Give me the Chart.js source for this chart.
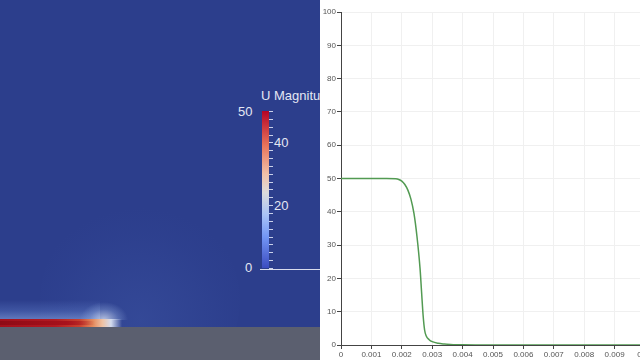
<!DOCTYPE html>
<html>
<head>
<meta charset="utf-8">
<script src="https://cdn.jsdelivr.net/npm/chart.js@4/dist/chart.umd.min.js"></script>
<style>
  html, body { margin: 0; padding: 0; }
  body { width: 640px; height: 360px; overflow: hidden; position: relative; background: #fff; font-family: "Liberation Sans", sans-serif; }
  #render { position: absolute; left: 0; top: 0; width: 320px; height: 360px; overflow: hidden; background: #2c3e8c; }
  #dome { position: absolute; left: 40px; top: 200px; width: 200px; height: 200px; border-radius: 50%;
          background: radial-gradient(circle at 50% 60%, rgba(80,110,190,0.22), rgba(60,85,170,0.08) 55%, rgba(44,62,140,0) 72%); }
  #floor { position: absolute; left: 0; top: 327px; width: 320px; height: 33px; background: #5b5f6f; }
  #glow { position: absolute; left: 0; top: 300px; width: 135px; height: 20px;
          background:
            radial-gradient(ellipse 24px 18px at 104px 100%, rgba(205,215,238,0.85), rgba(150,175,225,0.35) 60%, rgba(44,62,140,0)),
            linear-gradient(to bottom, rgba(44,62,140,0), rgba(100,130,205,0.35) 55%, rgba(130,158,220,0.65));
          background-size: 135px 100%, 100px 100%;
          background-repeat: no-repeat; }
  #jet { position: absolute; left: 0; top: 319px; width: 122px; height: 8px;
         background: linear-gradient(to right, #a3101c, #b21a22 45%, #c8402e 65%, #e58a5c 76%, #efc2a4 84%, #d4dcef 91%, rgba(120,150,215,0)); }
  #jetcore { position: absolute; left: 0; top: 321px; width: 95px; height: 4px; background: linear-gradient(to right, #8e0a15, #a8121c 70%, rgba(180,40,40,0)); }
  #cbar { position: absolute; left: 262px; top: 111px; width: 7px; height: 157px;
          background: linear-gradient(to bottom, #b40426, #e7745b 22%, #f1c0a8 40%, #dcdcdc 52%, #a9c3f6 66%, #7396f5 80%, #3b4cc0); }
  #cticks { position: absolute; left: 269px; top: 111px; width: 4px; height: 158px;
            background: repeating-linear-gradient(to bottom, #c9d0ea 0, #c9d0ea 1px, transparent 1px, transparent 7.85px); }
  #cline { position: absolute; left: 260px; top: 269px; width: 60px; height: 1px; background: #d8dcec; }
  .lab { position: absolute; color: #e4e7f3; font-size: 13px; line-height: 13px; white-space: nowrap; }
  #chartbox { position: absolute; left: 320px; top: 0; width: 360px; height: 360px; }
</style>
</head>
<body>
<div id="render">
  <div id="dome"></div>
  <div id="glow"></div>
  <div id="jet"></div>
  <div id="jetcore"></div>
  <div id="floor"></div>
  <div id="cbar"></div>
  <div id="cticks"></div>
  <div id="cline"></div>
  <div class="lab" style="left:261px;top:89px;">U Magnitude</div>
  <div class="lab" style="left:238px;top:105px;">50</div>
  <div class="lab" style="left:274px;top:136px;">40</div>
  <div class="lab" style="left:274px;top:199px;">20</div>
  <div class="lab" style="left:245px;top:261px;">0</div>
</div>
<div id="chartbox"><canvas id="plot"></canvas></div>
<script>
// arc length along the line (m) and U magnitude
var arcLength = [0, 0.0005, 0.001, 0.0015, 0.0018, 0.0019, 0.002, 0.0021, 0.0022, 0.0023,
                 0.0024, 0.0025, 0.0026, 0.00265, 0.0027, 0.00275, 0.0028, 0.0029, 0.003, 0.0032,
                 0.0034, 0.0036, 0.0038, 0.004, 0.005, 0.006, 0.007, 0.008, 0.009, 0.01];
var uMagnitude = [50, 50, 50, 50, 49.9, 49.7, 49.2, 48.2, 46.5, 43.8,
                  39.5, 32.5, 23, 16, 9, 4.5, 2.8, 1.6, 1.0, 0.5,
                  0.3, 0.18, 0.1, 0.05, 0, 0, 0, 0, 0, 0];
var xTickLabels = ["0", "0.001", "0.002", "0.003", "0.004", "0.005", "0.006", "0.007", "0.008", "0.009", "0.01"];
var yTickLabels = ["0", "10", "20", "30", "40", "50", "60", "70", "80", "90", "100"];

var points = arcLength.map(function (x, i) { return { x: x, y: uMagnitude[i] }; });

var ctx = document.getElementById("plot").getContext("2d");
var chart = new Chart(ctx, {
    type: "line",
    data: {
        datasets: [{
            data: points,
            borderColor: "#529a52",
            borderWidth: 1.5,
            pointRadius: 0,
            cubicInterpolationMode: "monotone",
            fill: false
        }]
    },
    options: {
        responsive: true,
        maintainAspectRatio: false,
        animation: false,
        layout: { padding: { top: 12, right: 35, bottom: 0, left: 0 } },
        plugins: { legend: { display: false }, tooltip: { enabled: false } },
        scales: {
            x: {
                type: "linear",
                min: 0, max: 0.01,
                ticks: {
                    stepSize: 0.001,
                    maxRotation: 0,
                    autoSkip: false,
                    padding: 1,
                    color: "#555",
                    font: { size: 8, family: "Liberation Sans" },
                    callback: function (v, i) { return xTickLabels[i]; }
                },
                grid: { color: "#f0f0f0", tickColor: "#444", tickLength: 4 },
                border: { color: "#444", width: 1 },
                afterFit: function (s) { s.height = 15; }
            },
            y: {
                min: 0, max: 100,
                ticks: {
                    stepSize: 10,
                    padding: 1,
                    color: "#555",
                    font: { size: 8, family: "Liberation Sans" },
                    callback: function (v, i) { return yTickLabels[i]; }
                },
                grid: { color: "#f0f0f0", tickColor: "#444", tickLength: 4 },
                border: { color: "#444", width: 1 },
                afterFit: function (s) { s.width = 21; }
            }
        }
    }
});
</script>
</body>
</html>
